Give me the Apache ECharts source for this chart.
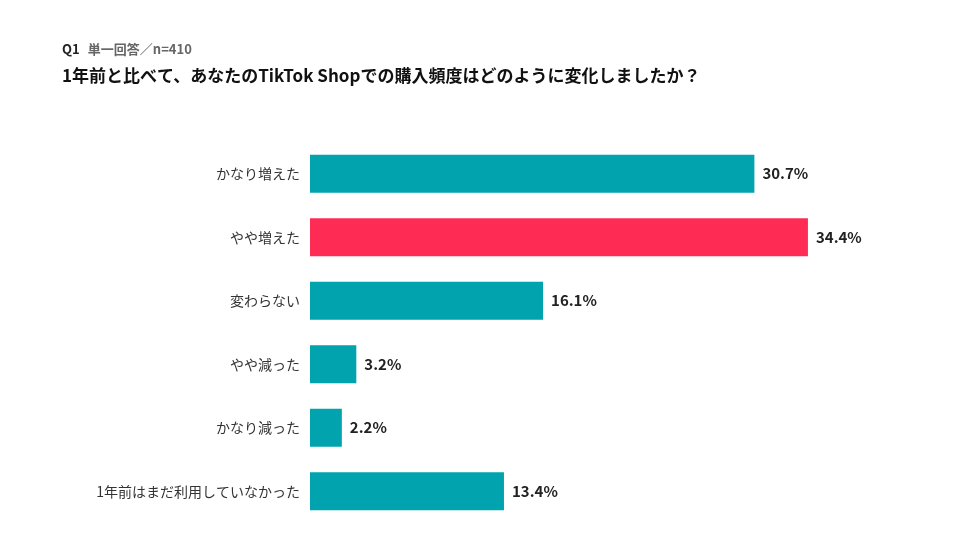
<!DOCTYPE html>
<html><head><meta charset="utf-8">
<script src="https://cdn.jsdelivr.net/npm/echarts@6/dist/echarts.min.js"></script>
<style>html,body{margin:0;background:#fff}#c{width:960px;height:540px}</style>
</head><body><div id="c"></div>
<script>
const categories = ["かなり増えた","やや増えた","変わらない","やや減った","かなり減った","1年前はまだ利用していなかった"];
const values = [30.7,34.4,16.1,3.2,2.2,13.4];
const highlightIndex = 1;
const chart = echarts.init(document.getElementById('c'));
const font = '"Noto Sans CJK JP","Noto Sans",sans-serif';
chart.setOption({
  animation:false,
  textStyle:{fontFamily:font},
  title:[
    {text:'{a|Q1}  {b|単一回答／n=410}',left:57,top:35,textStyle:{rich:{a:{fontSize:13,fontWeight:'bold',color:'#222',fontFamily:font},b:{fontSize:13,color:'#666',fontFamily:font}}}},
    {text:'1年前と比べて、あなたのTikTok Shopでの購入頻度はどのように変化しましたか？',left:57,top:62,textStyle:{fontSize:17,fontWeight:'bold',color:'#111',fontFamily:font}}
  ],
  grid:{left:310,top:142,width:579,height:381},
  xAxis:{type:'value',min:0,max:40,show:false},
  yAxis:{type:'category',inverse:true,data:categories,axisLine:{show:false},axisTick:{show:false},
    axisLabel:{fontSize:14,color:'#333',margin:10}},
  series:[{type:'bar',barWidth:38,
    data:values.map((v,i)=>({value:v,itemStyle:{color:i===highlightIndex?'#FE2C55':'#00A3AE'}})),
    label:{show:true,position:'right',distance:8,formatter:p=>p.value.toFixed(1)+'%',fontSize:15,fontWeight:'bold',color:'#222'}}]
});
</script></body></html>
